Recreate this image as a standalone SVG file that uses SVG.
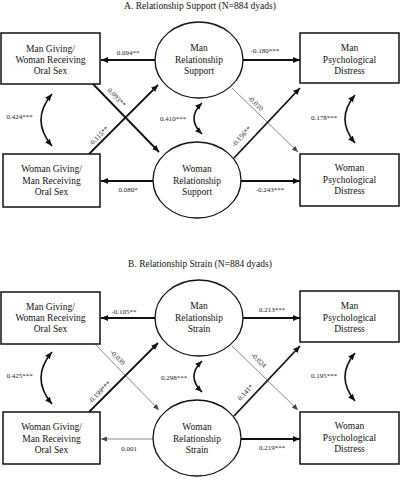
<svg xmlns="http://www.w3.org/2000/svg" width="400" height="480" viewBox="0 0 400 480">
<style>
text{font-family:"Liberation Serif","Times New Roman",serif;fill:#111}
.n{font-size:9.5px;text-anchor:middle}
.t{font-size:9.5px;text-anchor:middle}
.l{font-size:7px;text-anchor:middle;fill:#222}
.box{fill:#fff;stroke:#111;stroke-width:1.5}
.ell{fill:#fff;stroke:#111;stroke-width:1.3}
.thk{fill:none;stroke:#111;stroke-width:1.8;marker-end:url(#ah)}
.thn{fill:none;stroke:#555;stroke-width:0.7;marker-end:url(#as)}
.cur{fill:none;stroke:#111;stroke-width:1.6;marker-start:url(#ah);marker-end:url(#ah)}
</style>
<defs>
<marker id="ah" markerUnits="userSpaceOnUse" markerWidth="7" markerHeight="6" refX="7" refY="3" orient="auto-start-reverse"><path d="M0,0 L7,3 L0,6 z" fill="#111"/></marker>
<marker id="as" markerUnits="userSpaceOnUse" markerWidth="6" markerHeight="5" refX="6" refY="2.5" orient="auto"><path d="M0,0 L6,2.5 L0,5 z" fill="#444"/></marker>
</defs>
<rect width="400" height="480" fill="#fff"/>
<text class="t" x="200" y="9">A. Relationship Support (N=884 dyads)</text>
<text class="t" x="200" y="267">B. Relationship Strain (N=884 dyads)</text>

<g id="connectors">
<!-- Panel A -->
<line class="thk" x1="155" y1="60" x2="101" y2="60"/>
<line class="thk" x1="243" y1="60" x2="300" y2="60"/>
<line class="thk" x1="153" y1="181" x2="101" y2="181"/>
<line class="thk" x1="241" y1="181" x2="300" y2="181"/>
<line class="thk" x1="93" y1="84" x2="159" y2="152"/>
<line class="thk" x1="89" y1="154" x2="158" y2="85"/>
<line class="thn" x1="232" y1="88" x2="298" y2="152"/>
<line class="thk" x1="234" y1="158" x2="300" y2="88"/>
<path class="cur" d="M52,94 Q30,120 52,146"/>
<path class="cur" d="M202,103 Q186,118.5 202,134"/>
<path class="cur" d="M355,95 Q335,119 355,143"/>
<!-- Panel B -->
<line class="thk" x1="155" y1="318" x2="101" y2="318"/>
<line class="thk" x1="243" y1="318" x2="300" y2="318"/>
<line class="thn" x1="153" y1="439" x2="101" y2="439"/>
<line class="thk" x1="241" y1="439" x2="300" y2="439"/>
<line class="thn" x1="93" y1="342" x2="159" y2="410"/>
<line class="thk" x1="89" y1="412" x2="158" y2="343"/>
<line class="thn" x1="232" y1="346" x2="298" y2="410"/>
<line class="thk" x1="234" y1="416" x2="300" y2="346"/>
<path class="cur" d="M52,352 Q30,378 52,404"/>
<path class="cur" d="M202,361 Q186,376.5 202,392"/>
<path class="cur" d="M355,353 Q335,377 355,401"/>

<text class="l" x="128" y="54.5">0.094**</text>
<text class="l" x="265" y="52.5">-0.180***</text>
<text class="l" x="128" y="191.5">0.080*</text>
<text class="l" x="270" y="191.5">-0.243***</text>
<text class="l" transform="translate(115,99) rotate(46)">0.093**</text>
<text class="l" transform="translate(101,137) rotate(-45)">0.115**</text>
<text class="l" transform="translate(254,105) rotate(44)">-0.010</text>
<text class="l" transform="translate(243,138) rotate(-47)">-0.156**</text>
<text class="l" x="19.5" y="118.5">0.424***</text>
<text class="l" x="173" y="120.5">0.410***</text>
<text class="l" x="324" y="119.5">0.178***</text>

<text class="l" x="124" y="313.5">-0.105**</text>
<text class="l" x="272" y="311.5">0.213***</text>
<text class="l" x="129" y="450.5">0.001</text>
<text class="l" x="272" y="449.5">0.219***</text>
<text class="l" transform="translate(116,359) rotate(46)">-0.039</text>
<text class="l" transform="translate(101,394) rotate(-45)">-0.199***</text>
<text class="l" transform="translate(257,362) rotate(44)">-0.024</text>
<text class="l" transform="translate(247,394) rotate(-47)">0.141*</text>
<text class="l" x="19.5" y="377.5">0.425***</text>
<text class="l" x="174" y="379.5">0.298***</text>
<text class="l" x="324" y="377.5">0.195***</text>
</g>

<g id="a-man-giving">
<rect class="box" x="1" y="33" width="99" height="51"/>
<text class="n" x="50.5" y="52.3">Man Giving/</text>
<text class="n" x="50.5" y="63.3">Woman Receiving</text>
<text class="n" x="50.5" y="74.3">Oral Sex</text>
</g>
<g id="a-woman-giving">
<rect class="box" x="3" y="154" width="97" height="53"/>
<text class="n" x="51.5" y="172.3">Woman Giving/</text>
<text class="n" x="51.5" y="183.8">Man Receiving</text>
<text class="n" x="51.5" y="194.8">Oral Sex</text>
</g>
<g id="a-man-support">
<ellipse class="ell" cx="199" cy="60" rx="44" ry="38"/>
<text class="n" x="199" y="51.3">Man</text>
<text class="n" x="199" y="63.3">Relationship</text>
<text class="n" x="199" y="74.3">Support</text>
</g>
<g id="a-woman-support">
<ellipse class="ell" cx="197" cy="180" rx="44" ry="38"/>
<text class="n" x="197" y="172.3">Woman</text>
<text class="n" x="197" y="184.3">Relationship</text>
<text class="n" x="197" y="195.3">Support</text>
</g>
<g id="a-man-distress">
<rect class="box" x="300" y="33" width="99" height="50"/>
<text class="n" x="349.5" y="51.3">Man</text>
<text class="n" x="349.5" y="63.3">Psychological</text>
<text class="n" x="349.5" y="74.3">Distress</text>
</g>
<g id="a-woman-distress">
<rect class="box" x="300" y="154" width="99" height="52"/>
<text class="n" x="349.5" y="171.3">Woman</text>
<text class="n" x="349.5" y="183.3">Psychological</text>
<text class="n" x="349.5" y="194.3">Distress</text>
</g>

<g id="b-man-giving">
<rect class="box" x="1" y="292" width="99" height="52"/>
<text class="n" x="50.5" y="310.3">Man Giving/</text>
<text class="n" x="50.5" y="321.3">Woman Receiving</text>
<text class="n" x="50.5" y="332.3">Oral Sex</text>
</g>
<g id="b-woman-giving">
<rect class="box" x="3" y="412" width="97" height="52"/>
<text class="n" x="51.5" y="430.3">Woman Giving/</text>
<text class="n" x="51.5" y="441.8">Man Receiving</text>
<text class="n" x="51.5" y="452.8">Oral Sex</text>
</g>
<g id="b-man-strain">
<ellipse class="ell" cx="199" cy="318" rx="44" ry="38"/>
<text class="n" x="199" y="309.3">Man</text>
<text class="n" x="199" y="321.3">Relationship</text>
<text class="n" x="199" y="332.3">Strain</text>
</g>
<g id="b-woman-strain">
<ellipse class="ell" cx="197" cy="438" rx="44" ry="38"/>
<text class="n" x="197" y="430.3">Woman</text>
<text class="n" x="197" y="442.3">Relationship</text>
<text class="n" x="197" y="453.3">Strain</text>
</g>
<g id="b-man-distress">
<rect class="box" x="300" y="291" width="99" height="51"/>
<text class="n" x="349.5" y="309.3">Man</text>
<text class="n" x="349.5" y="321.3">Psychological</text>
<text class="n" x="349.5" y="332.3">Distress</text>
</g>
<g id="b-woman-distress">
<rect class="box" x="300" y="412" width="99" height="52"/>
<text class="n" x="349.5" y="429.3">Woman</text>
<text class="n" x="349.5" y="441.3">Psychological</text>
<text class="n" x="349.5" y="452.3">Distress</text>
</g>
</svg>
